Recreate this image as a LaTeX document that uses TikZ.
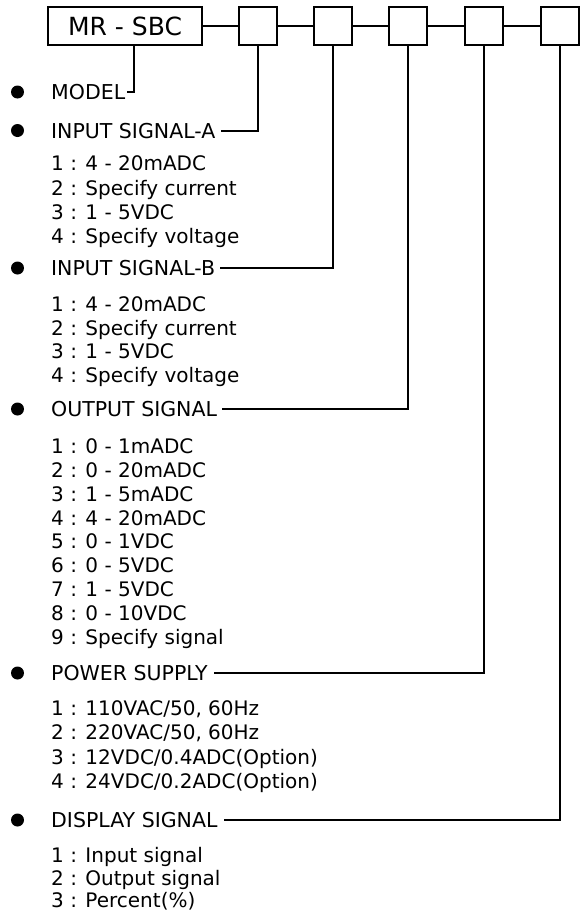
\documentclass[tikz,border=0pt]{standalone}
\usepackage{fontspec}
\setmainfont{DejaVu Sans}
\begin{document}
\begin{tikzpicture}[x=1pt,y=-1pt,
  box/.style={draw, line width=2pt, inner sep=0pt, minimum height=38pt},
  sbox/.style={box, minimum width=38pt},
  link/.style={line width=2pt},
  dot/.style={circle, fill=black, inner sep=0pt, minimum size=13pt},
  head/.style={anchor=base west, inner sep=0pt, text height=15pt, text depth=0pt, font=\fontsize{20.5}{24}\selectfont},
  itm/.style={anchor=base west, inner sep=0pt, font=\fontsize{20}{24}\selectfont}]
\useasboundingbox (0,0) rectangle (584,913);
% header boxes
\node[box, minimum width=154pt, font=\fontsize{25}{28}\selectfont] (mr) at (125,26) {MR - SBC};
\node[sbox] (b1) at (258,26) {};
\node[sbox] (b2) at (333,26) {};
\node[sbox] (b3) at (408,26) {};
\node[sbox] (b4) at (484,26) {};
\node[sbox] (b5) at (560,26) {};
\draw[link] (mr.east) -- (b1.west);
\draw[link] (b1.east) -- (b2.west);
\draw[link] (b2.east) -- (b3.west);
\draw[link] (b3.east) -- (b4.west);
\draw[link] (b4.east) -- (b5.west);
% bullets and headings
\node[dot] (d0) at (17.5,92) {};
\node[head] (hM) at (51,99.5) {MODEL};
\node[dot] (d1) at (17.5,130.5) {};
\node[head] (hA) at (51,138) {INPUT SIGNAL-A};
\node[dot] (d2) at (17.5,268) {};
\node[head] (hB) at (51,275.5) {INPUT SIGNAL-B};
\node[dot] (d3) at (17.5,409) {};
\node[head] (hO) at (51,416.5) {OUTPUT SIGNAL};
\node[dot] (d4) at (17.5,673) {};
\node[head] (hP) at (51,680.5) {POWER SUPPLY};
\node[dot] (d5) at (17.5,820) {};
\node[head] (hD) at (51,827.5) {DISPLAY SIGNAL};
% connectors
\coordinate (mtap) at (134,45);
\draw[link] (mtap) |- ([xshift=2pt]hM.east);
\draw[link] (b1.south) |- ([xshift=5pt]hA.east);
\draw[link] (b2.south) |- ([xshift=5pt]hB.east);
\draw[link] (b3.south) |- ([xshift=5pt]hO.east);
\draw[link] (b4.south) |- ([xshift=6pt]hP.east);
\draw[link] (b5.south) |- ([xshift=6pt]hD.east);
% items A
\node[itm] (a1) at (51,170) {1 : 4 - 20mADC};
\node[itm] (a2) at (51,195) {2 : Specify current};
\node[itm] (a3) at (51,219) {3 : 1 - 5VDC};
\node[itm] (a4) at (51,243) {4 : Specify voltage};
% items B
\node[itm] (bb1) at (51,311) {1 : 4 - 20mADC};
\node[itm] (bb2) at (51,335) {2 : Specify current};
\node[itm] (bb3) at (51,358) {3 : 1 - 5VDC};
\node[itm] (bb4) at (51,382) {4 : Specify voltage};
% items output
\node[itm] (o1) at (51,453) {1 : 0 - 1mADC};
\node[itm] (o2) at (51,477) {2 : 0 - 20mADC};
\node[itm] (o3) at (51,501) {3 : 1 - 5mADC};
\node[itm] (o4) at (51,525) {4 : 4 - 20mADC};
\node[itm] (o5) at (51,548) {5 : 0 - 1VDC};
\node[itm] (o6) at (51,572) {6 : 0 - 5VDC};
\node[itm] (o7) at (51,596) {7 : 1 - 5VDC};
\node[itm] (o8) at (51,620) {8 : 0 - 10VDC};
\node[itm] (o9) at (51,644) {9 : Specify signal};
% items power
\node[itm] (p1) at (51,715) {1 : 110VAC/50, 60Hz};
\node[itm] (p2) at (51,739) {2 : 220VAC/50, 60Hz};
\node[itm] (p3) at (51,764) {3 : 12VDC/0.4ADC(Option)};
\node[itm] (p4) at (51,788) {4 : 24VDC/0.2ADC(Option)};
% items display
\node[itm] (s1) at (51,862) {1 : Input signal};
\node[itm] (s2) at (51,885) {2 : Output signal};
\node[itm] (s3) at (51,907) {3 : Percent(\%)};
\end{tikzpicture}
\end{document}
